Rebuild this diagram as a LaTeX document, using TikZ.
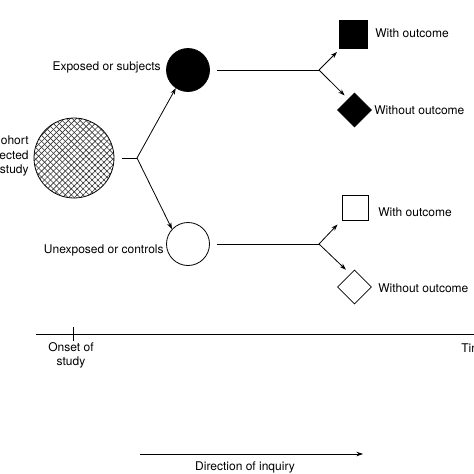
\documentclass[tikz,border=0pt]{standalone}
\usepackage{fontspec}
\setmainfont{TeX Gyre Heros}
\usetikzlibrary{positioning,arrows.meta,shapes.geometric,patterns.meta}

\begin{document}
\begin{tikzpicture}[x=1pt, y=-1pt, line width=0.8pt,
  font=\fontsize{12}{14.5}\selectfont,
  arr/.style={-{Stealth[length=6.5pt,width=4.5pt]}},
  grp/.style={circle, draw, inner sep=0pt, minimum size=43pt},
  outc/.style={rectangle, draw, inner sep=0pt},
  noutc/.style={diamond, draw, inner sep=0pt, minimum width=34pt, minimum height=34pt},
  lbl/.style={inner sep=0pt}]

\useasboundingbox (0,0) rectangle (474,474);

% Cohort
\node (cohort) [circle, draw, inner sep=0pt, minimum size=80pt,
  pattern={Lines[angle=45,distance=4.2pt,line width=0.6pt]}, pattern color=black!80,
  postaction={pattern={Lines[angle=-45,distance=4.2pt,line width=0.6pt]}, pattern color=black!80}]
  at (74,158) {};
\node (cohortlbl) [lbl, anchor=east, align=right] at (29,156) {Cohort\\selected\\for study};
\coordinate (split) at (137,158);
\draw[shorten <=8pt] (cohort) -- (split);

% Exposed branch
\node (exp) [grp, fill=black] at (188,70) {};
\node (explbl) [lbl, anchor=east] at (161,67) {Exposed or subjects};
\draw[arr] (split) -- (exp.236);
\coordinate (splitA) at (319,70);
\draw[shorten <=7pt] (exp) -- (splitA);

\node (sqA) [outc, fill=black, minimum size=28pt] at (353.5,34) {};
\node (sqAlbl) [lbl, anchor=west] at (375,33) {With outcome};
\node (diaA) [noutc, fill=black] at (354.5,110) {};
\node (diaAlbl) [lbl, anchor=west] at (374,110) {Without outcome};
\draw[arr, shorten >=5pt] (splitA) -- (sqA.228);
\draw[arr, shorten >=5pt] (splitA) -- (diaA.120);

% Unexposed branch
\node (unexp) [grp] at (188,244) {};
\node (unexplbl) [lbl, anchor=east] at (164,250) {Unexposed or controls};
\draw[arr] (split) -- (unexp.137);
\coordinate (splitB) at (319,244);
\draw[shorten <=7pt] (unexp) -- (splitB);

\node (sqB) [outc, minimum size=25.5pt] at (355.5,208) {};
\node (sqBlbl) [lbl, anchor=west] at (378,212) {With outcome};
\node (diaB) [noutc] at (354.5,287) {};
\node (diaBlbl) [lbl, anchor=west] at (378,288) {Without outcome};
\draw[arr, shorten >=7pt] (splitB) -- (sqB.221);
\draw[arr, shorten >=6pt] (splitB) -- (diaB.108);

% Time axis
\coordinate (tstart) at (36,334);
\coordinate (tend) at (480,334);
\coordinate (onset) at (73,334);
\draw (tstart) -- (tend);
\draw (onset) ++(0,-7) -- ++(0,14);
\node (onsetlbl) [lbl, align=center] at (71,355.5) {Onset of\\study};
\node (timelbl) [lbl, anchor=west] at (461,348) {Time};

% Direction of inquiry
\coordinate (dirstart) at (140,454);
\coordinate (dirend) at (363,454);
\draw[arr] (dirstart) -- (dirend);
\node (dirlbl) [lbl] at (245,467) {Direction of inquiry};

\end{tikzpicture}
\end{document}
